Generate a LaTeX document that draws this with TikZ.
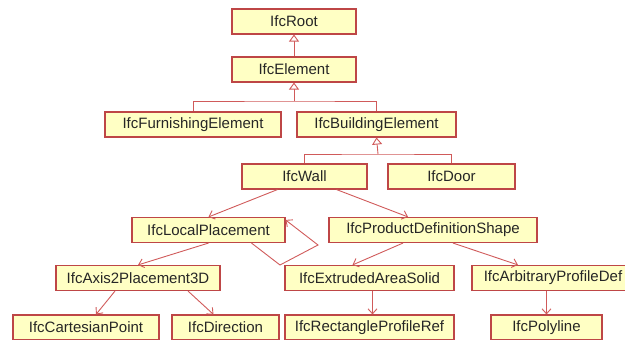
\documentclass[tikz,border=0pt]{standalone}
\usepackage{fontspec}
\setmainfont{Liberation Sans}
\usetikzlibrary{arrows.meta}

\definecolor{boxfill}{HTML}{FFFFC4}
\definecolor{boxline}{HTML}{BE4646}
\definecolor{linkred}{HTML}{D05A5A}

\tikzset{
  ifcbox/.style={draw=boxline, line width=1.1pt, fill=boxfill, minimum height=25pt,
    inner sep=0pt, font=\fontsize{15}{18}\selectfont, text=black!85},
  treeline/.style={draw=linkred, line width=0.9pt},
  inherit/.style={treeline, -{Triangle[open, length=7pt, width=10pt, fill=white]}},
  assoc/.style={treeline, -{Straight Barb[length=5pt, width=9pt]}}
}

\begin{document}
\begin{tikzpicture}[x=1pt, y=-1pt]
    \useasboundingbox (0,0) rectangle (625,340);
    \clip (0,0) rectangle (625,340);

    % class boxes
    \node[ifcbox, minimum width=124pt] (root) at (294,21.5) {IfcRoot};
    \node[ifcbox, minimum width=124pt] (elem) at (294,69.5) {IfcElement};
    \node[ifcbox, minimum width=176pt] (furn) at (193,124.5) {IfcFurnishingElement};
    \node[ifcbox, minimum width=159pt] (bld) at (376.5,124.5) {IfcBuildingElement};
    \node[ifcbox, minimum width=125pt] (wall) at (304.5,176.5) {IfcWall};
    \node[ifcbox, minimum width=127pt] (door) at (451.5,176.5) {IfcDoor};
    \node[ifcbox, minimum width=153pt] (lp) at (208.5,230) {IfcLocalPlacement};
    \node[ifcbox, minimum width=208pt] (pds) at (433,230) {IfcProductDefinitionShape};
    \node[ifcbox, minimum width=164pt] (axis) at (138,278) {IfcAxis2Placement3D};
    \node[ifcbox, minimum width=169pt] (ext) at (369.5,278) {IfcExtrudedAreaSolid};
    \node[ifcbox, minimum width=162pt] (arb) at (553,278) {IfcArbitraryProfileDef};
    \node[ifcbox, minimum width=146pt] (cart) at (86,327.5) {IfcCartesianPoint};
    \node[ifcbox, minimum width=107pt] (dir) at (225.5,327.5) {IfcDirection};
    \node[ifcbox, minimum width=169pt] (rect) at (369.5,327.5) {IfcRectangleProfileRef};
    \node[ifcbox, minimum width=111pt] (poly) at (546.5,327.5) {IfcPolyline};

    % inheritance
    \draw[inherit] (elem.north) -- (root.south);
    \coordinate (j1) at (294,101);
    \draw[treeline] (furn.north) |- (j1) -| (bld.north);
    \draw[inherit] (j1) -- (elem.south);
    \coordinate (j2) at (378,154);
    \draw[treeline] (wall.north) |- (j2) -| (door.north);
    \draw[inherit] (j2) -- (bld.south);

    % references
    \draw[assoc] ([xshift=-27pt]wall.south) -- (lp.north);
    \draw[assoc] ([xshift=32pt]wall.south) -- ([xshift=-25pt]pds.north);
    \draw[assoc] (lp.south) -- (axis.north);
    \draw[assoc] ([xshift=-30pt]pds.south) -- ([xshift=-17pt]ext.north);
    \draw[assoc] ([xshift=20pt]pds.south) -- ([xshift=-35pt]arb.north);
    \draw[assoc] ([xshift=3pt]ext.south) -- ([xshift=3pt]rect.north);
    \draw[assoc] (poly.north |- arb.south) -- (poly.north);
    \draw[assoc] ([xshift=-23pt]axis.south) -- ([xshift=10pt]cart.north);
    \draw[assoc] ([xshift=50pt]axis.south) -- ([xshift=-12pt]dir.north);
    \coordinate (loopa) at (280,265);
    \coordinate (loopb) at (318,245);
    \draw[assoc] ([xshift=43pt]lp.south) -- (loopa) -- (loopb) -- ([yshift=-3pt]lp.north east);
\end{tikzpicture}
\end{document}
